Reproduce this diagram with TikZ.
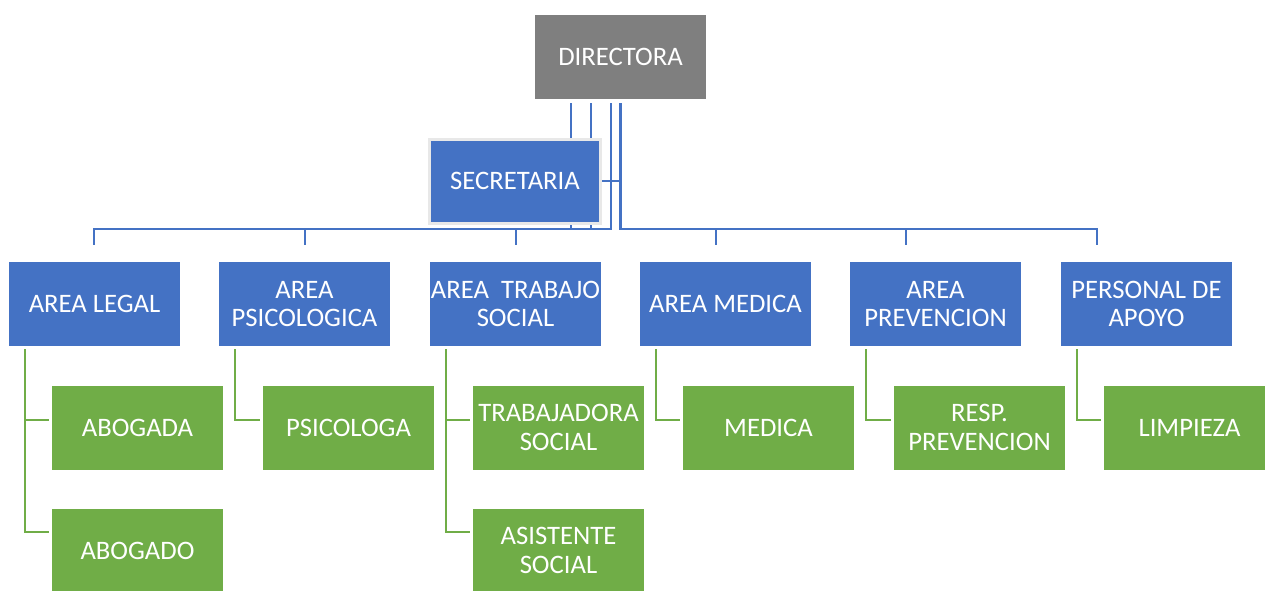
\documentclass[tikz,border=0pt]{standalone}
\usepackage{fontspec}
\setmainfont{Carlito}
\usepackage{tikz}
\usepackage{xcolor}
\usetikzlibrary{calc}

\definecolor{azul}{RGB}{68,114,196}
\definecolor{verde}{RGB}{112,173,71}
\definecolor{gris}{RGB}{127,127,127}
\tikzset{
  caja/.style={minimum width=128.25pt, minimum height=63pt, inner sep=0pt, text=white, align=center, font=\fontsize{20}{21.3}\selectfont},
  jefe/.style={caja, fill=gris},
  area/.style={caja, fill=azul},
  cargo/.style={caja, fill=verde},
  lazo/.style={draw=azul, line width=1.8pt},
  rama/.style={draw=verde, line width=1.8pt, shorten <=2.25pt},
}

\begin{document}
\begin{tikzpicture}[x=0.75pt,y=0.75pt,yscale=-1,xscale=1]
\clip (0,0) rectangle (1265,590);

% Text Node
\node[jefe] (dir) at (620.5,57) {DIRECTORA};

%Bus points
\coordinate (bus) at (620,229);
\coordinate (baja1) at (94,245);
\coordinate (baja2) at (305,245);
\coordinate (baja3) at (516,245);
\coordinate (baja4) at (716,245);
\coordinate (baja5) at (906,245);
\coordinate (baja6) at (1097,245);

%Straight Lines
\draw[lazo, line width=1.5pt, shorten <=3pt] ([xshift=-37.5pt]dir.south) -- ([xshift=-37.5pt]dir.south |- bus);
\draw[lazo, line width=1.5pt, shorten <=3pt] ([xshift=-22.5pt]dir.south) -- ([xshift=-22.5pt]dir.south |- bus);
\draw[lazo, shorten <=3pt] ([xshift=-7pt]dir.south) |- (baja1 |- bus) -- (baja1);
\draw[lazo, line width=2.2pt, shorten <=3pt] (dir.south) |- (baja6 |- bus) -- (baja6);
\draw[lazo] (baja2 |- bus) -- (baja2);
\draw[lazo] (baja3 |- bus) -- (baja3);
\draw[lazo] (baja4 |- bus) -- (baja4);
\draw[lazo] (baja5 |- bus) -- (baja5);

% Text Node
\node[area, draw=gris!18, line width=2.25pt] (sec) at (515,181) {SECRETARIA};
\draw[lazo] (sec.east) -- (sec.east -| dir.south);

% Text Node
\node[area] (legal) at (94.5,304) {AREA LEGAL};
\node[area] (psico) at (304.5,304) {AREA\\PSICOLOGICA};
\node[area] (trabajo) at (515.5,304) {AREA~~TRABAJO\\SOCIAL};
\node[area] (medica) at (725.5,304) {AREA MEDICA};
\node[area] (preven) at (935.5,304) {AREA\\PREVENCION};
\node[area] (apoyo) at (1146.5,304) {PERSONAL DE\\APOYO};

% Text Node
\node[cargo] (abogada) at (137.5,427.5) {ABOGADA};
\node[cargo] (abogado) at (137.5,550.5) {ABOGADO};
\node[cargo] (psicologa) at (348.5,427.5) {PSICOLOGA};
\node[cargo] (trabajadora) at (558.5,427.5) {TRABAJADORA\\SOCIAL};
\node[cargo] (asistente) at (558.5,550.5) {ASISTENTE\\SOCIAL};
\node[cargo] (medico) at (768.5,427.5) {MEDICA};
\node[cargo] (resp) at (979.5,427.5) {RESP.\\PREVENCION};
\node[cargo] (limpieza) at (1189.5,427.5) {LIMPIEZA};

%Straight Lines
\draw[rama] ([xshift=12pt]legal.south west) |- ($(abogada.west)+(-3,-7.5)$);
\draw[rama] ([xshift=12pt]legal.south west) |- ($(abogado.west)+(-3,-18.5)$);
\draw[rama] ([xshift=12pt]psico.south west) |- ($(psicologa.west)+(-3,-7.5)$);
\draw[rama] ([xshift=12pt]trabajo.south west) |- ($(trabajadora.west)+(-3,-7.5)$);
\draw[rama] ([xshift=12pt]trabajo.south west) |- ($(asistente.west)+(-3,-18.5)$);
\draw[rama] ([xshift=12pt]medica.south west) |- ($(medico.west)+(-3,-7.5)$);
\draw[rama] ([xshift=12pt]preven.south west) |- ($(resp.west)+(-3,-7.5)$);
\draw[rama] ([xshift=12pt]apoyo.south west) |- ($(limpieza.west)+(-3,-7.5)$);

\end{tikzpicture}
\end{document}
